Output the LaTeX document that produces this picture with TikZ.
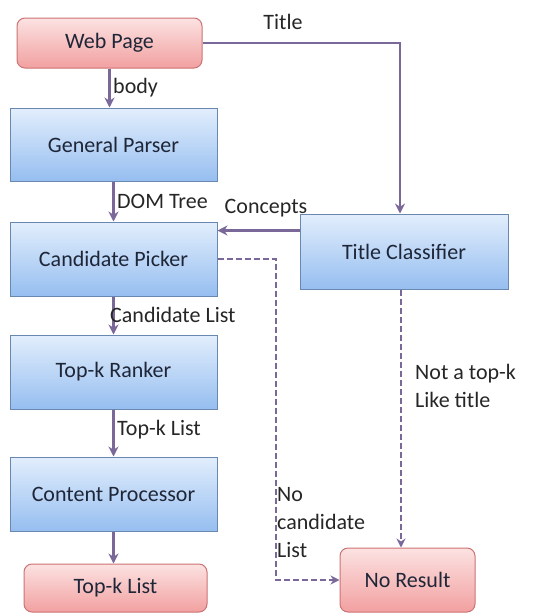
\documentclass[tikz,border=0pt]{standalone}
\usepackage{fontspec}
\setmainfont{Carlito}
\usetikzlibrary{arrows.meta,positioning}
\definecolor{flowline}{RGB}{122,104,152}
\definecolor{blocktop}{RGB}{226,238,252}
\definecolor{blockbot}{RGB}{150,190,240}
\definecolor{blockedge}{RGB}{105,135,175}
\definecolor{termtop}{RGB}{252,226,226}
\definecolor{termbot}{RGB}{242,160,160}
\definecolor{termedge}{RGB}{205,115,115}
\definecolor{inktext}{RGB}{30,38,56}
\tikzset{
BLOCK/.style={draw=blockedge, line width=1pt, top color=blocktop, bottom color=blockbot, text=inktext, inner sep=0pt, font=\fontsize{22}{27}\selectfont},
TERM/.style={draw=termedge, line width=1pt, rounded corners=8pt, top color=termtop, bottom color=termbot, text=inktext, inner sep=0pt, font=\fontsize{22}{27}\selectfont},
FLOW/.style={draw=flowline, line width=2.6pt, -{Stealth[length=10pt,width=10pt]}},
DASHFLOW/.style={draw=flowline, line width=2.2pt, dash pattern=on 6pt off 3pt, -{Stealth[length=9pt,width=9pt]}},
LABEL/.style={text=black!85, inner sep=1pt, font=\fontsize{22}{28}\selectfont, align=left},
}
\begin{document}
\begin{tikzpicture}
[x=1pt, y=1pt]
	\useasboundingbox (0,0) rectangle (533,-614);
	\node[TERM, minimum width=185pt, minimum height=50pt] (webpage) at (109.5,-43) {Web Page};
	\node[BLOCK, minimum width=207pt, minimum height=73pt] (parser) at (113.5,-144.5) {General Parser};
	\node[BLOCK, minimum width=207pt, minimum height=74pt] (picker) at (113.5,-259) {Candidate Picker};
	\node[BLOCK, minimum width=208pt, minimum height=75pt] (classifier) at (404,-251.5) {Title Classifier};
	\node[BLOCK, minimum width=207pt, minimum height=74pt] (ranker) at (113.5,-372) {Top-k Ranker};
	\node[BLOCK, minimum width=207pt, minimum height=74pt] (processor) at (113.5,-494) {Content Processor};
	\node[TERM, minimum width=183pt, minimum height=48pt] (toplist) at (115.5,-588) {Top-k List};
	\node[TERM, minimum width=135pt, minimum height=64pt] (noresult) at (407.5,-580) {No Result};
	\coordinate (bend) at (276,-259);
	\draw[FLOW] (webpage) -- (webpage |- parser.north);
	\draw[FLOW] (parser) -- (parser |- picker.north);
	\draw[FLOW] (webpage.east) -| ([xshift=-4pt]classifier.north);
	\draw[FLOW] ([yshift=21pt]classifier.west) -- ([yshift=21pt]classifier.west -| picker.east);
	\draw[FLOW] (picker) -- (picker |- ranker.north);
	\draw[FLOW] (ranker) -- (ranker |- processor.north);
	\draw[FLOW] (processor) -- (processor |- toplist.north);
	\draw[DASHFLOW] (picker.east) -- (bend) |- (noresult.west);
	\draw[DASHFLOW] ([xshift=-3pt]classifier.south) -- ([xshift=-3pt]classifier.south |- noresult.north);
	\node[LABEL] (ltitle) at (283,-22) {Title};
	\node[LABEL, anchor=west] (lbody) at (112,-88) {body};
	\node[LABEL, anchor=west] (ldom) at (116,-201) {DOM Tree};
	\node[LABEL] (lconcepts) at (266,-208) {Concepts};
	\node[LABEL, anchor=west] (lcandidate) at (109,-315) {Candidate List};
	\node[LABEL, anchor=west] (ltopk) at (116,-430) {Top-k List};
	\node[LABEL, anchor=west] (lnottopk) at (414,-386) {Not a top-k\\Like title};
	\node[LABEL, anchor=west] (lnocand) at (276,-523) {No\\candidate\\List};
\end{tikzpicture}
\end{document}
